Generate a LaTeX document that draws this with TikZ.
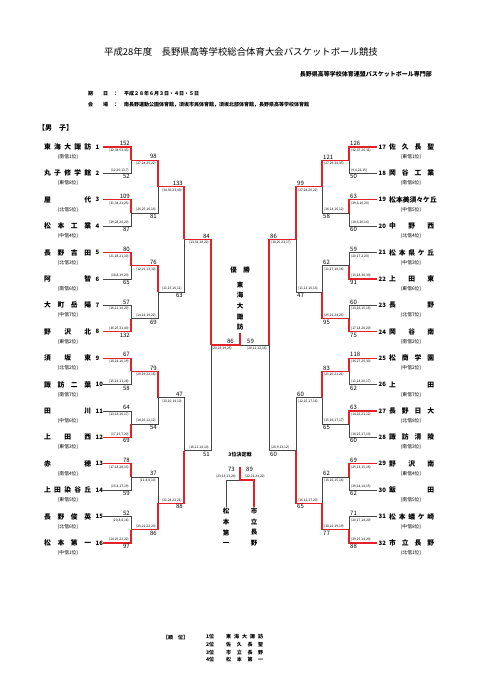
\documentclass[tikz,border=0pt]{standalone}
\usepackage{fontspec}
\setmainfont{Noto Sans CJK JP}
\definecolor{wred}{RGB}{226,34,40}
\definecolor{lgray}{RGB}{70,70,70}
\tikzset{
  redln/.style={draw=wred,line width=1.3pt},
  grayln/.style={draw=lgray,line width=0.7pt},
  tname/.style={inner sep=0pt,font=\fontsize{6.8}{7}\selectfont\bfseries},
  tnum/.style={inner sep=0pt,font=\fontsize{6}{6}\selectfont\bfseries},
  tseed/.style={inner sep=0pt,font=\fontsize{4.8}{5}\selectfont},
  sc/.style={inner sep=0pt,font=\fontsize{6}{6}\selectfont},
  qs/.style={inner sep=0pt,font=\fontsize{3.3}{3.5}\selectfont},
  vt/.style={inner sep=0pt,font=\fontsize{6.5}{7}\selectfont\bfseries},
}
% left team: y, number, name, seed
\newcommand\tL[4]{%
  \node[tname,anchor=west] (nL#2) at (44,#1) {\makebox[47pt][s]{#3}};
  \node[tnum,anchor=west] (kL#2) at (95.5,#1) {#2};
  \node[tseed] (sL#2) at (68,#1+10) {(#4)};}
\newcommand\tR[4]{%
  \node[tname,anchor=west] (nR#2) at (389,#1) {\makebox[45pt][s]{#3}};
  \node[tnum,anchor=west] (kR#2) at (378.5,#1) {#2};
  \node[tseed] (sR#2) at (411,#1+10) {(#4)};}
% match: x1, x2, yA, yB, winner(1/2), scoreA, quartersA, scoreB, quartersB
\newcommand\mL[9]{%
  \pgfmathsetmacro\ym{(#3+#4)/2}%
  \ifnum#5=1
    \draw[grayln] (#1,#4) -- (#2,#4) -- (#2,\ym);
    \draw[redln] (#1,#3) -- (#2,#3) -- (#2,\ym);
  \else
    \draw[grayln] (#1,#3) -- (#2,#3) -- (#2,\ym);
    \draw[redln] (#1,#4) -- (#2,#4) -- (#2,\ym);
  \fi
  \node[sc,anchor=south east] at (#2-1,#3-1) {#6};
  \node[qs,anchor=north east] at (#2-2,#3+1.5) {(#7)};
  \node[qs,anchor=south east] at (#2-2,#4-1.5) {(#9)};
  \node[sc,anchor=north east] at (#2-1,#4+1) {#8};}
\newcommand\mR[9]{%
  \pgfmathsetmacro\ym{(#3+#4)/2}%
  \ifnum#5=1
    \draw[grayln] (#1,#4) -- (#2,#4) -- (#2,\ym);
    \draw[redln] (#1,#3) -- (#2,#3) -- (#2,\ym);
  \else
    \draw[grayln] (#1,#3) -- (#2,#3) -- (#2,\ym);
    \draw[redln] (#1,#4) -- (#2,#4) -- (#2,\ym);
  \fi
  \node[sc,anchor=south west] at (#2+1,#3-1) {#6};
  \node[qs,anchor=north west] at (#2+2,#3+1.5) {(#7)};
  \node[qs,anchor=south west] at (#2+2,#4-1.5) {(#9)};
  \node[sc,anchor=north west] at (#2+1,#4+1) {#8};}
\begin{document}
\begin{tikzpicture}[x=1pt,y=-1pt]
\useasboundingbox[fill=white] (0,0) rectangle (481,680);
% header
\node[inner sep=0pt,font=\fontsize{9.4}{10}\selectfont] (title) at (241,52) {平成28年度　長野県高等学校総合体育大会バスケットボール競技};
\node[inner sep=0pt,anchor=east,font=\fontsize{6}{6}\selectfont\bfseries] (org) at (432,74) {長野県高等学校体育連盟バスケットボール専門部};
\node[inner sep=0pt,anchor=west,font=\fontsize{5}{5}\selectfont\bfseries] (dl) at (88,94) {期　　日　：};
\node[inner sep=0pt,anchor=west,font=\fontsize{5}{5}\selectfont\bfseries] (dt) at (124,94) {平成２８年６月３日・４日・５日};
\node[inner sep=0pt,anchor=west,font=\fontsize{5}{5}\selectfont\bfseries] (vl) at (88,105) {会　　場　：};
\node[inner sep=0pt,anchor=west,font=\fontsize{5}{5}\selectfont\bfseries] (vt) at (124,105) {南長野運動公園体育館，須坂市民体育館，須坂北部体育館，長野県高等学校体育館};
\node[inner sep=0pt,anchor=west,font=\fontsize{7}{7}\selectfont\bfseries] (boys) at (38,128) {【男　子】};
% left teams
\tL{147}{1}{東\hfil 海\hfil 大\hfil 諏\hfil 訪}{南信1位}
\tL{173.4}{2}{丸\hfil 子\hfil 修\hfil 学\hfil 館}{東信8位}
\tL{199.8}{3}{屋\hfil 代}{北信5位}
\tL{226.2}{4}{松\hfil 本\hfil 工\hfil 業}{中信4位}
\tL{252.6}{5}{長\hfil 野\hfil 吉\hfil 田}{北信3位}
\tL{279}{6}{阿\hfil 智}{南信6位}
\tL{305.4}{7}{大\hfil 町\hfil 岳\hfil 陽}{中信7位}
\tL{331.8}{8}{野\hfil 沢\hfil 北}{東信2位}
\tL{358.2}{9}{須\hfil 坂\hfil 東}{北信2位}
\tL{384.6}{10}{諏\hfil 訪\hfil 二\hfil 葉}{南信7位}
\tL{411}{11}{田\hfil 川}{中信6位}
\tL{437.4}{12}{上\hfil 田\hfil 西}{東信3位}
\tL{463.8}{13}{赤\hfil 穂}{南信4位}
\tL{490.2}{14}{上\hfil 田\hfil 染\hfil 谷\hfil 丘}{東信5位}
\tL{516.6}{15}{長\hfil 野\hfil 俊\hfil 英}{北信6位}
\tL{543}{16}{松\hfil 本\hfil 第\hfil 一}{中信1位}
% right teams
\tR{147}{17}{佐\hfil 久\hfil 長\hfil 聖}{東信1位}
\tR{173.4}{18}{岡\hfil 谷\hfil 工\hfil 業}{南信8位}
\tR{199.8}{19}{松\hfil 本\hfil 美\hfil 須\hfil 々\hfil ケ\hfil 丘}{中信5位}
\tR{226.2}{20}{中\hfil 野\hfil 西}{北信4位}
\tR{252.6}{21}{松\hfil 本\hfil 県\hfil ケ\hfil 丘}{中信3位}
\tR{279}{22}{上\hfil 田\hfil 東}{東信6位}
\tR{305.4}{23}{長\hfil 野}{北信7位}
\tR{331.8}{24}{岡\hfil 谷\hfil 南}{南信2位}
\tR{358.2}{25}{松\hfil 商\hfil 学\hfil 園}{中信2位}
\tR{384.6}{26}{上\hfil 田}{東信7位}
\tR{411}{27}{長\hfil 野\hfil 日\hfil 大}{北信8位}
\tR{437.4}{28}{諏\hfil 訪\hfil 清\hfil 陵}{南信3位}
\tR{463.8}{29}{野\hfil 沢\hfil 南}{東信4位}
\tR{490.2}{30}{飯\hfil 田}{南信5位}
\tR{516.6}{31}{松\hfil 本\hfil 蟻\hfil ケ\hfil 崎}{中信8位}
\tR{543}{32}{市\hfil 立\hfil 長\hfil 野}{北信1位}
% left round 1
\mL{103}{131}{147}{173.4}{1}{152}{32,34,53,33}{52}{12,20,13,7}
\mL{103}{131}{199.8}{226.2}{1}{109}{31,34,21,23}{87}{19,28,20,20}
\mL{103}{131}{252.6}{279}{1}{80}{21,28,21,10}{65}{18,8,19,20}
\mL{103}{131}{305.4}{331.8}{2}{57}{16,11,10,20}{132}{36,25,31,40}
\mL{103}{131}{358.2}{384.6}{1}{67}{18,14,16,19}{58}{15,14,11,18}
\mL{103}{131}{411}{437.4}{2}{64}{13,18,16,17}{69}{17,25,7,20}
\mL{103}{131}{463.8}{490.2}{1}{78}{17,18,28,15}{59}{15,8,17,19}
\mL{103}{131}{516.6}{543}{2}{52}{20,8,8,16}{97}{28,25,22,22}
% left round 2
\mL{131}{158}{160.2}{213}{1}{98}{27,24,25,22}{81}{26,25,16,14}
\mL{131}{158}{265.8}{318.6}{1}{76}{12,21,13,30}{69}{14,14,19,22}
\mL{131}{158}{371.4}{424.2}{1}{79}{20,19,22,18}{54}{14,16,12,12}
\mL{131}{158}{477}{529.8}{2}{37}{11,8,8,10}{86}{23,21,22,20}
% left round 3
\mL{158}{184}{186.6}{292.2}{1}{133}{34,36,23,40}{63}{21,15,16,11}
\mL{158}{184}{397.8}{503.4}{2}{47}{13,10,14,10}{88}{21,24,22,21}
% left round 4
\mL{184}{211}{239.4}{450.6}{1}{84}{13,31,18,22}{51}{16,11,14,10}
% right round 1
\mR{377}{349}{147}{173.4}{1}{126}{32,37,26,31}{50}{9,4,22,15}
\mR{377}{349}{199.8}{226.2}{1}{63}{19,8,16,20}{60}{18,6,20,16}
\mR{377}{349}{252.6}{279}{2}{59}{20,17,2,20}{91}{13,18,30,30}
\mR{377}{349}{305.4}{331.8}{2}{60}{13,16,15,16}{75}{17,18,20,20}
\mR{377}{349}{358.2}{384.6}{1}{118}{36,27,25,30}{62}{11,14,20,17}
\mR{377}{349}{411}{437.4}{1}{63}{14,16,21,12}{60}{18,15,17,10}
\mR{377}{349}{463.8}{490.2}{1}{69}{25,13,15,16}{62}{19,14,14,15}
\mR{377}{349}{516.6}{543}{2}{71}{20,17,14,20}{88}{29,25,14,20}
% right round 2
\mR{349}{322}{160.2}{213}{1}{121}{27,29,30,35}{58}{16,14,16,12}
\mR{349}{322}{265.8}{318.6}{2}{62}{11,17,18,16}{95}{25,21,24,25}
\mR{349}{322}{371.4}{424.2}{1}{83}{21,20,21,21}{65}{15,16,17,17}
\mR{349}{322}{477}{529.8}{2}{62}{15,16,15,16}{77}{18,21,19,19}
% right round 3
\mR{322}{296}{186.6}{292.2}{1}{99}{27,24,26,22}{47}{11,13,10,13}
\mR{322}{296}{397.8}{503.4}{2}{60}{12,15,17,16}{65}{16,12,17,20}
% right round 4
\mR{296}{269}{239.4}{450.6}{1}{86}{18,20,21,17}{60}{26,9,13,12}
% final
\coordinate (fl) at (211,345);
\coordinate (fr) at (269,345);
\coordinate (fc) at (240,345);
\coordinate (fcu) at (240,333);
\draw[grayln] (fr) -- (fc);
\draw[redln] (fl) -- (fc) -- (fcu);
\node[sc,anchor=south east] (f1) at (234,344) {86};
\node[qs,anchor=north west] (f1q) at (212,346.5) {(20,22,19,25)};
\node[sc,anchor=south west] (f2) at (247,344) {59};
\node[qs,anchor=north west] (f2q) at (247,346.5) {(20,11,12,16)};
\node[vt] (yu) at (240,270) {優　勝};
\node[vt,align=center] (chmp) at (240,306) {東\\[3.6pt]海\\[3.6pt]大\\[3.6pt]諏\\[3.6pt]訪};
% third place
\node[inner sep=0pt,font=\fontsize{5}{5}\selectfont\bfseries] (tp) at (240,455) {3位決定戦};
\coordinate (tl) at (226,480);
\coordinate (tr) at (254,480);
\coordinate (tc) at (240,480);
\coordinate (tcu) at (240,467);
\coordinate (tlb) at (226,507);
\coordinate (trb) at (254,507);
\draw[grayln] (tlb) -- (tl) -- (tc);
\draw[redln] (trb) -- (tr) -- (tc) -- (tcu);
\node[sc,anchor=south east] (t1) at (235,472) {73};
\node[qs,anchor=south east] (t1q) at (236,478) {(23,13,13,24)};
\node[sc,anchor=south west] (t2) at (246,472) {89};
\node[qs,anchor=south west] (t2q) at (245,478) {(22,21,24,22)};
\node[vt,align=center] (tn1) at (226,527) {松\\[3.6pt]本\\[3.6pt]第\\[3.6pt]一};
\node[vt,align=center] (tn2) at (254,527) {市\\[3.6pt]立\\[3.6pt]長\\[3.6pt]野};
% ranking
\node[inner sep=0pt,anchor=west,font=\fontsize{5}{5}\selectfont\bfseries] (rk) at (163,638) {【順　位】};
\foreach \i/\r/\n in {0/1/{東\hfil 海\hfil 大\hfil 諏\hfil 訪},1/2/{佐\hfil 久\hfil 長\hfil 聖},2/3/{市\hfil 立\hfil 長\hfil 野},3/4/{松\hfil 本\hfil 第\hfil 一}}{
  \node[inner sep=0pt,anchor=west,font=\fontsize{5}{5}\selectfont\bfseries] (r\r) at (206,637+\i*7.6) {\r 位};
  \node[inner sep=0pt,anchor=west,font=\fontsize{5}{5}\selectfont\bfseries] (rn\r) at (226,637+\i*7.6) {\makebox[37pt][s]{\n}};
}
\end{tikzpicture}
\end{document}
